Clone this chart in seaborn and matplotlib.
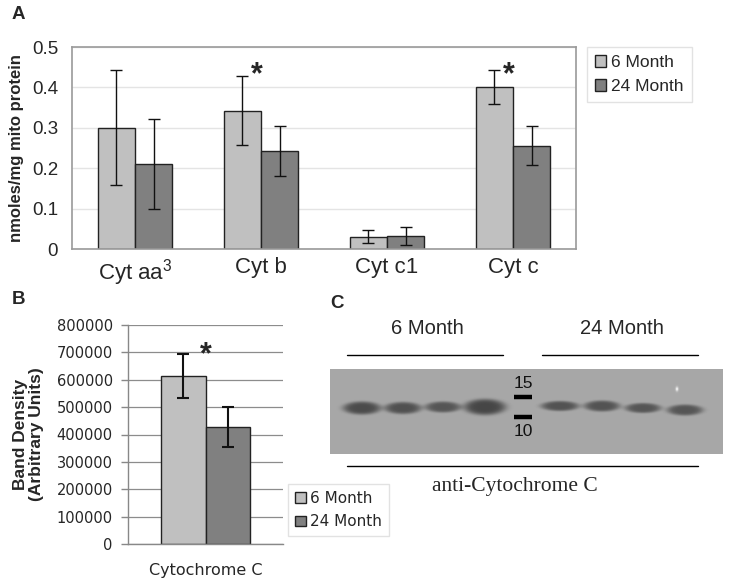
import numpy as np
import pandas as pd
import seaborn as sns
import matplotlib.pyplot as plt
from matplotlib.patches import Patch

sns.set_theme(style='white')
plt.rcParams['font.family'] = ['Liberation Sans', 'DejaVu Sans']
plt.rcParams['mathtext.default'] = 'regular'

# Panel A : cytochrome content (nmoles/mg mito protein)
cyt_labels = ['Cyt aa$^3$', 'Cyt b', 'Cyt c1', 'Cyt c']
ages = ['6 Month', '24 Month']
mean_6 = [0.300, 0.342, 0.030, 0.400]
mean_24 = [0.211, 0.243, 0.033, 0.256]
err_6 = [0.142, 0.085, 0.016, 0.042]
err_24 = [0.111, 0.062, 0.022, 0.049]
sig_a = ['Cyt b', 'Cyt c']
star_y_a = [0.410, 0.410]

# Panel B : band density
dens_labels = ['Cytochrome C']
dens_6 = [613000]
dens_24 = [427000]
dens_err_6 = [80000]
dens_err_24 = [72000]
star_y_b = [660000]

# Panel C : western blot, band strength per lane (6 Month x4, 24 Month x4)
band_dark = [0.36, 0.34, 0.32, 0.38, 0.33, 0.33, 0.32, 0.32]
band_h = [13, 12, 11, 16, 10, 11, 10, 11]
band_w = [38, 37, 36, 42, 38, 36, 36, 36]
marker_labels = ['15', '10']

palette = {'6 Month': '#c0c0c0', '24 Month': '#808080'}

fig = plt.figure(figsize=(7.29, 5.84), dpi=100)
W, H = 729, 584


def px(x0, y0, x1, y1):
    return [x0 / W, 1 - y1 / H, (x1 - x0) / W, (y1 - y0) / H]


# ---------- Panel C (drawn in pixel coordinates) ----------
ax_c = fig.add_axes(px(330, 300, 729, 584))
ax_c.axis('off')

bx0, bx1, by0, by1 = 330, 723, 369, 454
lane_x = [362, 403, 443, 485, 560, 602, 643, 685]
lane_y = [408, 408, 407, 407, 406, 406, 408, 410]
xx, yy = np.meshgrid(np.arange(bx0, bx1) + 0.5, np.arange(by0, by1) + 0.5)
img = np.full(xx.shape, 0.655)
for cx, cy, w, h, d in zip(lane_x, lane_y, band_w, band_h, band_dark):
    r = ((xx - cx) / (w / 2)) ** 2 + ((yy - cy) / (h / 2)) ** 2
    img -= d * np.exp(-r ** 2.5)
img += 0.3 * np.exp(-((xx - 677) ** 2 / 2 + (yy - 389) ** 2 / 5))
ax_c.imshow(img, cmap='gray', vmin=0, vmax=1, extent=(bx0, bx1, by1, by0),
            interpolation='bilinear', aspect='auto')
ax_c.set_xlim(330, 729)
ax_c.set_ylim(584, 300)

for yy_m in (397, 417):
    ax_c.plot([514, 532], [yy_m, yy_m], color='black', lw=3.2, solid_capstyle='butt')
ax_c.text(523, 383, marker_labels[0], ha='center', va='center', fontsize=12.5, color='#111111')
ax_c.text(523, 432, marker_labels[1], ha='center', va='center', fontsize=12.5, color='#111111')

ax_c.plot([347, 503], [355, 355], color='black', lw=1)
ax_c.plot([542, 698], [355, 355], color='black', lw=1)
ax_c.plot([347, 698], [466, 466], color='black', lw=1)
ax_c.text(427, 329, ages[0], ha='center', va='center', fontsize=14.5)
ax_c.text(622, 329, ages[1], ha='center', va='center', fontsize=14.5)
ax_c.text(515, 487, 'anti-Cytochrome C', ha='center', va='center', fontsize=15.5,
          family='Liberation Serif')

# ---------- Panel A ----------
ax_a = fig.add_axes(px(72, 47, 576, 249))
df_a = pd.DataFrame({'cyt': cyt_labels * 2,
                     'age': np.repeat(ages, len(cyt_labels)),
                     'val': mean_6 + mean_24})
sns.barplot(data=df_a, x='cyt', y='val', hue='age', palette=palette, width=0.59,
            errorbar=None, edgecolor='#222222', linewidth=1, saturation=1,
            legend=False, ax=ax_a)
for cont, errs in zip(ax_a.containers, [err_6, err_24]):
    xs = [b.get_x() + b.get_width() / 2 for b in cont]
    ys = [b.get_height() for b in cont]
    ax_a.errorbar(xs, ys, yerr=errs, fmt='none', ecolor='#111111', elinewidth=1,
                  capsize=4.5, capthick=1)
for lab, sy in zip(sig_a, star_y_a):
    i = cyt_labels.index(lab)
    ax_a.text(i - 0.03, sy, '*', ha='center', va='baseline', fontsize=22, fontweight='bold')

ax_a.set_xlim(-0.5, 3.5)
ax_a.set_ylim(0, 0.5)
ax_a.set_yticks(np.arange(0, 0.51, 0.1))
ax_a.set_yticklabels(['0', '0.1', '0.2', '0.3', '0.4', '0.5'])
ax_a.tick_params(axis='y', length=0, pad=10, labelsize=13.5)
ax_a.tick_params(axis='x', length=0, pad=6, labelsize=16)
ax_a.set_xlabel('')
ax_a.set_ylabel('nmoles/mg mito protein', fontsize=12, fontweight='bold', labelpad=6)
ax_a.yaxis.grid(True, color='#e4e4e4', lw=1)
ax_a.set_axisbelow(True)
for sp in ax_a.spines.values():
    sp.set_color('#9a9a9a')
    sp.set_linewidth(1.2)

handles = [Patch(facecolor=palette[a], edgecolor='#222222', label=a) for a in ages]
ax_a.legend(handles=handles, loc='upper left', bbox_to_anchor=(1.022, 1.0),
            borderaxespad=0, fontsize=12.5, handlelength=0.65, handleheight=0.65,
            handletextpad=0.3, borderpad=0.45, labelspacing=0.55,
            fancybox=False, framealpha=1, edgecolor='#e2e2e2')

# ---------- Panel B ----------
ax_b = fig.add_axes(px(128, 325, 283, 544))
ax_b.set_zorder(3)
df_b = pd.DataFrame({'band': dens_labels * 2,
                     'age': np.repeat(ages, len(dens_labels)),
                     'val': dens_6 + dens_24})
sns.barplot(data=df_b, x='band', y='val', hue='age', palette=palette, width=0.57,
            errorbar=None, edgecolor='#222222', linewidth=1, saturation=1,
            legend=False, ax=ax_b)
for cont, errs in zip(ax_b.containers, [dens_err_6, dens_err_24]):
    xs = [b.get_x() + b.get_width() / 2 for b in cont]
    ys = [b.get_height() for b in cont]
    ax_b.errorbar(xs, ys, yerr=errs, fmt='none', ecolor='#111111', elinewidth=1.5,
                  capsize=4.5, capthick=1.5)
for i, sy in enumerate(star_y_b):
    ax_b.text(i, sy, '*', ha='center', va='baseline', fontsize=22, fontweight='bold')

ax_b.set_xlim(-0.5, 0.5)
ax_b.set_ylim(0, 800000)
yt = np.arange(0, 800001, 100000)
ax_b.set_yticks(yt)
ax_b.set_yticklabels([str(int(v)) for v in yt], family='DejaVu Sans')
ax_b.set_xticks([0])
ax_b.set_xticklabels(dens_labels, family='DejaVu Sans')
ax_b.tick_params(axis='y', length=5, width=1, color='#888888', pad=6, labelsize=10.5,
                 left=True, direction='out')
ax_b.tick_params(axis='x', length=0, pad=14, labelsize=11.5)
ax_b.set_xlabel('')
ax_b.set_ylabel('Band Density\n(Arbitrary Units)', fontsize=12.5, fontweight='bold',
                labelpad=9, linespacing=1.05)
ax_b.yaxis.grid(True, color='#8c8c8c', lw=0.9)
ax_b.set_axisbelow(True)
for side in ('top', 'right'):
    ax_b.spines[side].set_visible(False)
for side in ('left', 'bottom'):
    ax_b.spines[side].set_color('#888888')
    ax_b.spines[side].set_linewidth(1)

ax_b.legend(handles=handles, loc='upper left', bbox_to_anchor=(1.032, 0.274),
            borderaxespad=0, prop={'family': 'DejaVu Sans', 'size': 11},
            handlelength=0.7, handleheight=0.7, handletextpad=0.3, borderpad=0.45,
            labelspacing=0.55, fancybox=False, framealpha=1, edgecolor='#e2e2e2')

# panel letters
fig.text(12 / W, 1 - 6 / H, 'A', fontsize=13.5, fontweight='bold', va='top')
fig.text(12 / W, 1 - 291 / H, 'B', fontsize=13.5, fontweight='bold', va='top')
fig.text(330 / W, 1 - 295 / H, 'C', fontsize=13.5, fontweight='bold', va='top')

fig.savefig('out.png', dpi=100)
